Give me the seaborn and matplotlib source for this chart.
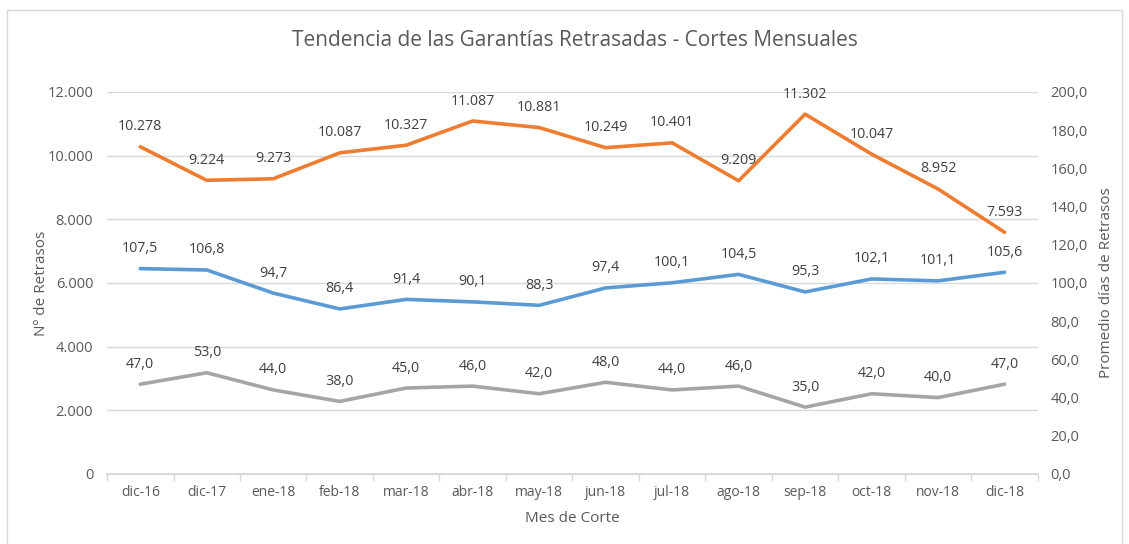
import pandas as pd
import seaborn as sns
import matplotlib.pyplot as plt
from matplotlib.patches import Rectangle
from matplotlib.ticker import FuncFormatter, MultipleLocator

# Chart data
meses = ['dic-16', 'dic-17', 'ene-18', 'feb-18', 'mar-18', 'abr-18', 'may-18',
         'jun-18', 'jul-18', 'ago-18', 'sep-18', 'oct-18', 'nov-18', 'dic-18']
retrasos = [10278, 9224, 9273, 10087, 10327, 11087, 10881,
            10249, 10401, 9209, 11302, 10047, 8952, 7593]
promedio_dias = [107.5, 106.8, 94.7, 86.4, 91.4, 90.1, 88.3,
                 97.4, 100.1, 104.5, 95.3, 102.1, 101.1, 105.6]
serie_gris = [47.0, 53.0, 44.0, 38.0, 45.0, 46.0, 42.0,
              48.0, 44.0, 46.0, 35.0, 42.0, 40.0, 47.0]

df = pd.DataFrame({'mes': meses, 'pos': range(len(meses)),
                   'retrasos': retrasos, 'promedio': promedio_dias,
                   'gris': serie_gris})

sns.set_theme(style='white')
plt.rcParams['font.family'] = ['Open Sans', 'DejaVu Sans']

naranja = '#ED7D31'
azul = '#5B9BD5'
gris = '#A5A5A5'
texto = '#595959'
rejilla = '#D9D9D9'

fig = plt.figure(figsize=(11.29, 5.44), dpi=100)
ax = fig.add_axes([0.0948, 0.1287, 0.8244, 0.7023])
ax2 = ax.twinx()

sns.lineplot(data=df, x='pos', y='retrasos', ax=ax, color=naranja, linewidth=2.6)
sns.lineplot(data=df, x='pos', y='promedio', ax=ax2, color=azul, linewidth=2.6)
sns.lineplot(data=df, x='pos', y='gris', ax=ax2, color=gris, linewidth=2.6)

# data labels
def miles(v):
    return f'{v:,.0f}'.replace(',', '.')

for x, v in zip(df['pos'], df['retrasos']):
    ax.annotate(miles(v), (x, v), xytext=(0, 9), textcoords='offset points',
                ha='center', va='bottom', fontsize=10.3, color='#404040')
for col in ['promedio', 'gris']:
    for x, v in zip(df['pos'], df[col]):
        ax2.annotate(f'{v:.1f}'.replace('.', ','), (x, v), xytext=(0, 9),
                     textcoords='offset points', ha='center', va='bottom',
                     fontsize=10.3, color='#404040')

ax.set_xlim(-0.5, len(meses) - 0.5)
ax.set_ylim(0, 12000)
ax2.set_ylim(0, 200)

ax.set_xticks(df['pos'])
ax.set_xticklabels(meses)
ax.tick_params(axis='x', which='major', length=0, colors=texto, labelsize=10, pad=8)
ax.set_xticks([i - 0.5 for i in range(len(meses) + 1)], minor=True)
ax.tick_params(axis='x', which='minor', length=5, color=rejilla, bottom=True)

ax.yaxis.set_major_locator(MultipleLocator(2000))
ax.yaxis.set_major_formatter(FuncFormatter(lambda v, p: miles(v)))
ax.tick_params(axis='y', length=0, colors=texto, labelsize=10.5, pad=10)
ax2.yaxis.set_major_locator(MultipleLocator(20))
ax2.yaxis.set_major_formatter(FuncFormatter(lambda v, p: f'{v:.1f}'.replace('.', ',')))
ax2.tick_params(axis='y', length=0, colors=texto, labelsize=10.5, pad=9)

ax.grid(axis='y', color=rejilla, linewidth=1)
ax2.grid(False)
for a in (ax, ax2):
    for s in ['top', 'left', 'right']:
        a.spines[s].set_visible(False)
    a.spines['bottom'].set_color(rejilla)

ax.set_xlabel('Mes de Corte', color=texto, fontsize=11, labelpad=8)
ax.set_ylabel('Nº de Retrasos', color=texto, fontsize=11, labelpad=-1)
ax2.set_ylabel('Promedio días de Retrasos', color=texto, fontsize=11, labelpad=8)

fig.suptitle('Tendencia de las Garantías Retrasadas - Cortes Mensuales',
             x=0.509, y=0.945, fontsize=15, color=texto)

fig.patches.append(Rectangle((0.006, -0.05), 0.988, 1.032, transform=fig.transFigure,
                             fill=False, edgecolor=rejilla, linewidth=1))

fig.savefig('out.png', dpi=100, facecolor='white')
